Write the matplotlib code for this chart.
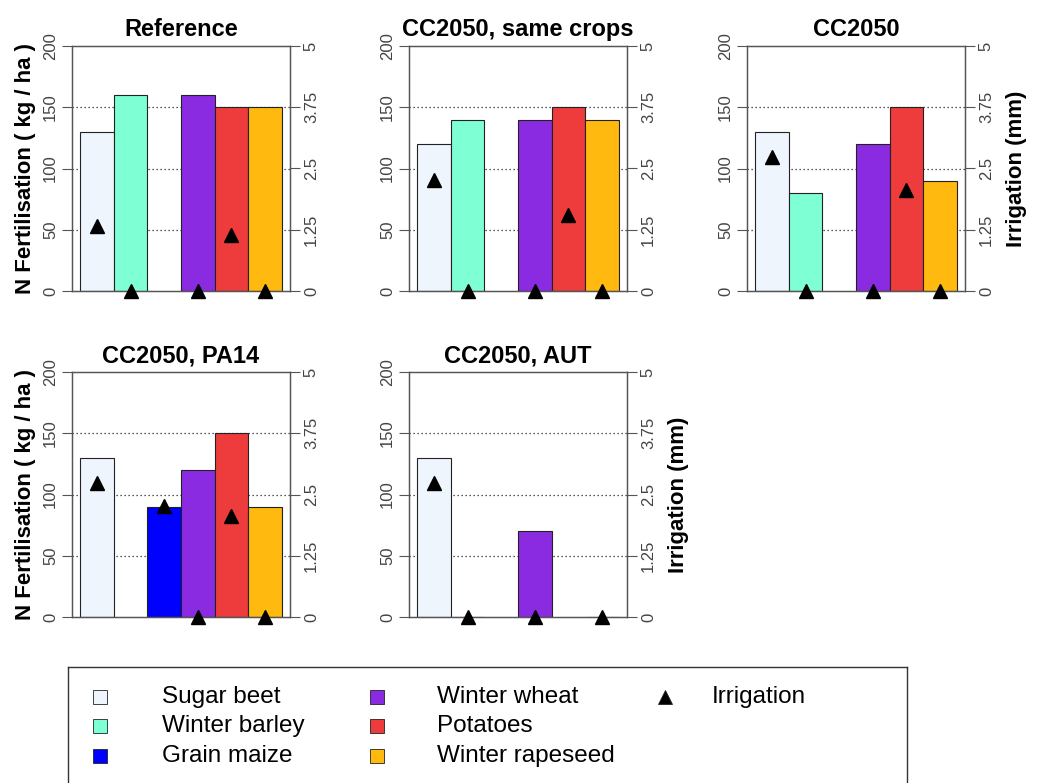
import numpy as np
import matplotlib.pyplot as plt

plt.rcParams['font.family'] = ['Liberation Sans', 'DejaVu Sans']

nan = np.nan

crops = ["Sugar beet", "Winter barley", "Grain maize", "Winter wheat", "Potatoes", "Winter rapeseed"]
crop_colors = ["#EEF5FC", "#7FFFD4", "#0000FF", "#8A2BE2", "#EE3B3B", "#FFB90F"]

titles = ["Reference", "CC2050, same crops", "CC2050", "CC2050, PA14", "CC2050, AUT"]

# N fertilisation (kg/ha), one value per crop slot
fert_reference = [130, 160, nan, 160, 150, 150]
fert_same = [120, 140, nan, 140, 150, 140]
fert_cc2050 = [130, 80, nan, 120, 150, 90]
fert_pa14 = [130, nan, 90, 120, 150, 90]
fert_aut = [130, 0, nan, 70, nan, 0]

# irrigation (mm)
irr_reference = [1.33, 0, nan, 0, 1.14, 0]
irr_same = [2.26, 0, nan, 0, 1.56, 0]
irr_cc2050 = [2.73, 0, nan, 0, 2.07, 0]
irr_pa14 = [2.73, nan, 2.27, 0, 2.06, 0]
irr_aut = [2.73, 0, nan, 0, nan, 0]

fert_ticks = [0, 50, 100, 150, 200]
irr_ticks = [0, 1.25, 2.5, 3.75, 5]
irr_ticklabels = ["0", "1.25", "2.5", "3.75", "5"]

fert_all = [fert_reference, fert_same, fert_cc2050, fert_pa14, fert_aut]
irr_all = [irr_reference, irr_same, irr_cc2050, irr_pa14, irr_aut]

W, H = 1037, 783
fig = plt.figure(figsize=(W / 100, H / 100), dpi=100)

# panel boxes in pixels: left, top
boxes = [(72, 46), (409, 46), (747, 46), (72, 372), (409, 372)]
bw, bh = 218, 245
show_left = [True, False, False, True, False]
show_right = [False, False, True, False, True]

spine_col = "#555555"
tick_col = "#444444"

for k in range(5):
    l, t = boxes[k]
    ax = fig.add_axes([l / W, 1 - (t + bh) / H, bw / W, bh / H])
    x = np.arange(len(crops))
    for yv in [50, 100, 150]:
        ax.axhline(yv, color="#222222", linestyle=(0, (1, 2.2)), lw=0.9, zorder=0)
    ax.bar(x, fert_all[k], width=1.0, align="edge", color=crop_colors,
           edgecolor="#222222", linewidth=0.8, zorder=2)
    ax.set_xlim(-0.24, 6.24)
    ax.set_ylim(0, 200)
    ax.set_xticks([])
    ax.set_yticks(fert_ticks)
    ax.set_yticklabels([str(v) for v in fert_ticks], rotation=90, va="center")
    ax.tick_params(axis="y", direction="out", length=7, width=0.8, colors=spine_col,
                   labelcolor=tick_col, labelsize=12, pad=3)
    for s in ax.spines.values():
        s.set_color(spine_col)
        s.set_linewidth(0.9)
    ax.set_title(titles[k], fontsize=17, fontweight="bold", pad=7)
    if show_left[k]:
        ax.set_ylabel("N Fertilisation ( kg / ha )", fontsize=16, fontweight="bold", labelpad=5)

    ax2 = ax.twinx()
    ax2.set_ylim(0, 5)
    ax2.set_yticks(irr_ticks)
    ax2.set_yticklabels(irr_ticklabels, rotation=90, va="center")
    ax2.tick_params(axis="y", direction="out", length=7, width=0.8, colors=spine_col,
                    labelcolor=tick_col, labelsize=12, pad=3)
    for s in ax2.spines.values():
        s.set_color(spine_col)
        s.set_linewidth(0.9)
    ax2.plot(x + 0.5, irr_all[k], linestyle="none", marker="^", markersize=10.5,
             color="black", clip_on=False, zorder=5)
    if show_right[k]:
        ax2.set_ylabel("Irrigation (mm)", fontsize=16, fontweight="bold", labelpad=9)

# legend box
lax = fig.add_axes([68 / W, 0, (907 - 68) / W, (H - 667) / H])
lax.set_xlim(68, 907)
lax.set_ylim(H, 667)
lax.set_xticks([])
lax.set_yticks([])
lax.spines["bottom"].set_visible(False)
for s in ["top", "left", "right"]:
    lax.spines[s].set_color("#333333")
    lax.spines[s].set_linewidth(1.0)

col_marker_x = [100, 377, 665]
col_text_x = [162, 437, 712]
row_y = [697, 726, 756]
legend_items = [(c, "s", crop_colors[i]) for i, c in enumerate(crops)] + [("Irrigation", "^", "black")]
for i, (lab, mk, col) in enumerate(legend_items):
    ci, ri = i // 3, i % 3
    lax.plot([col_marker_x[ci]], [row_y[ri]], marker=mk, markersize=9.5 if mk == "s" else 10,
             markerfacecolor=col, markeredgecolor="#222222", markeredgewidth=0.6,
             linestyle="none", clip_on=False)
    lax.text(col_text_x[ci], row_y[ri], lab, fontsize=17.5, va="center", ha="left")

fig.savefig("out.png", dpi=100)
